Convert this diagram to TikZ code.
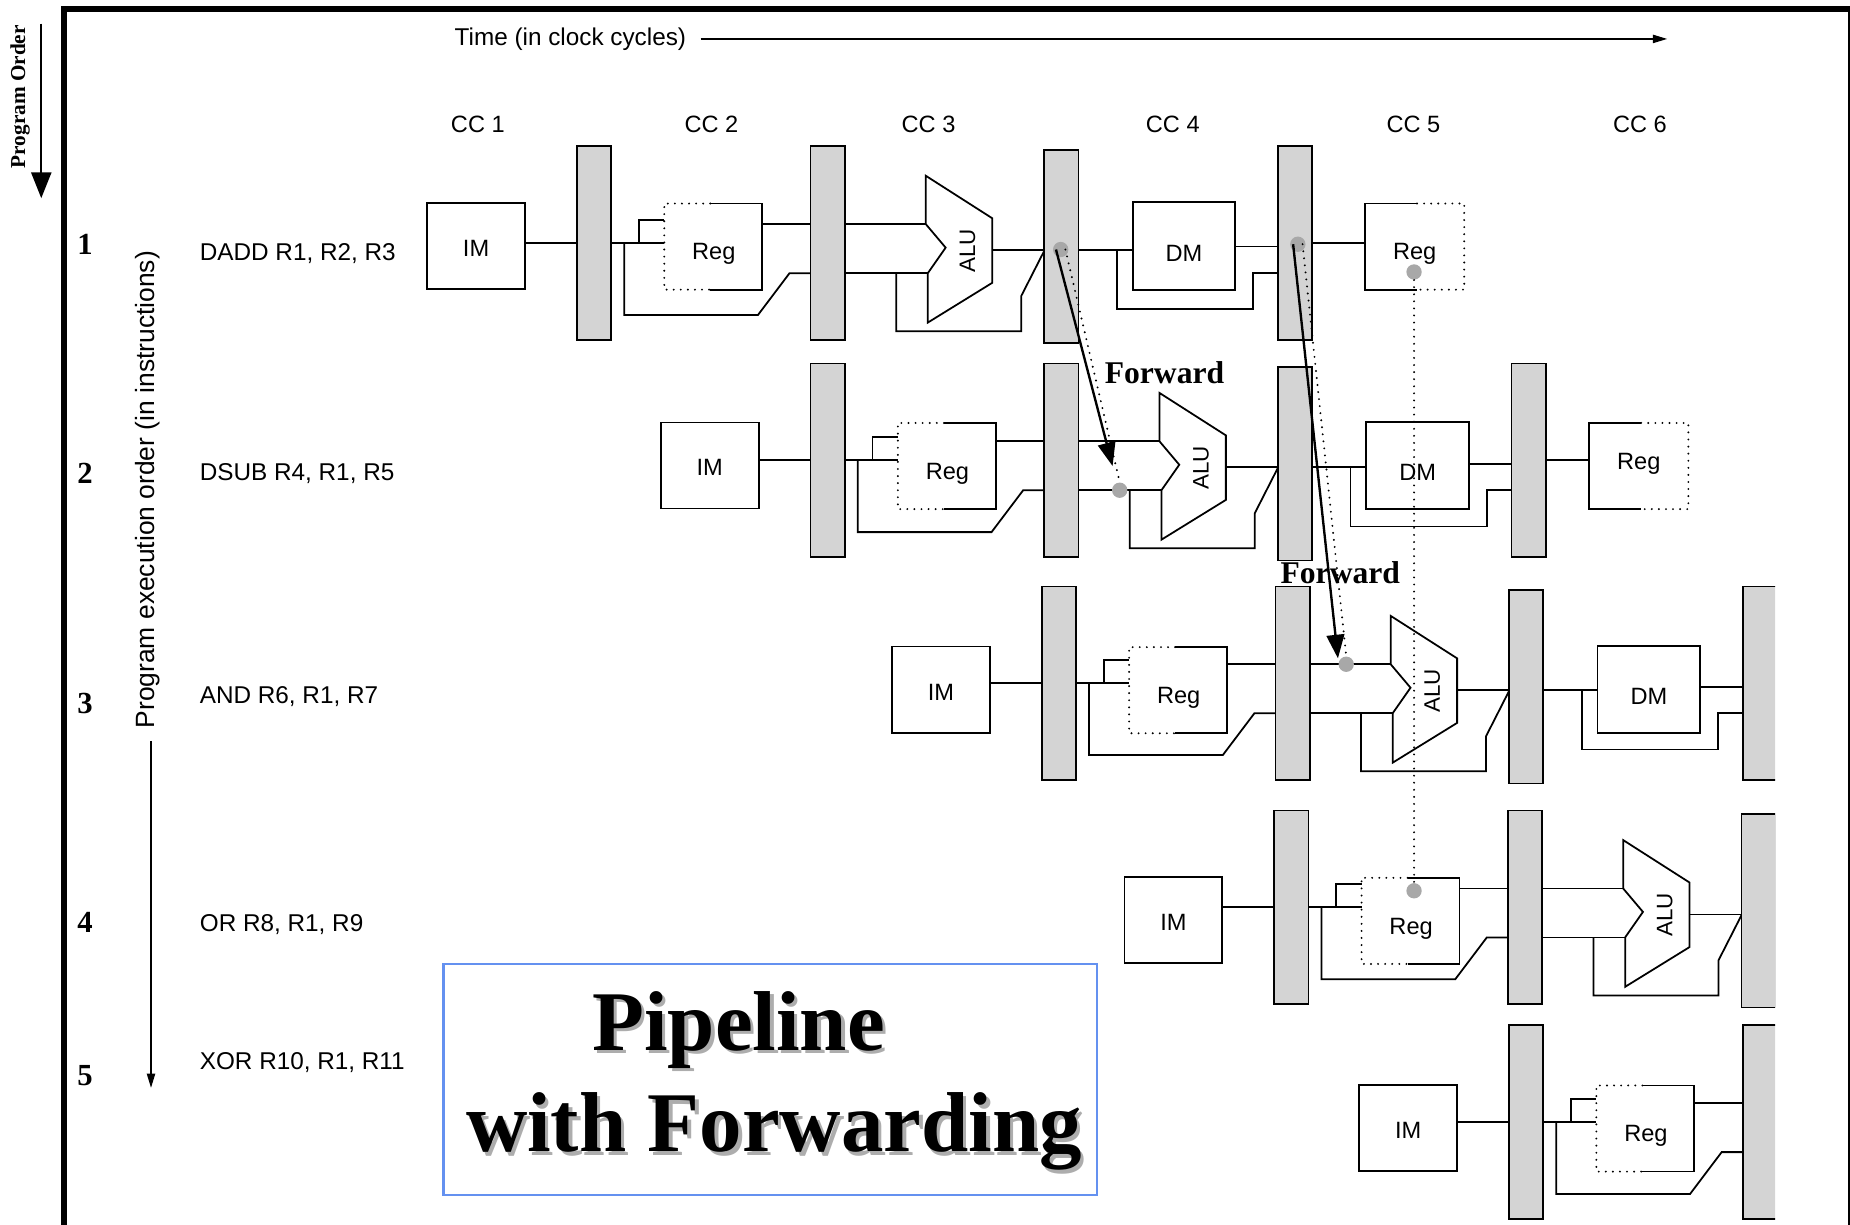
\documentclass[tikz,border=0pt]{standalone}
\usepackage{fontspec}
\setmainfont{Liberation Serif}
\setsansfont{Liberation Sans}
\usetikzlibrary{arrows.meta}
\definecolor{bargray}{gray}{0.83}
\definecolor{dotgray}{gray}{0.66}
\definecolor{shadowgray}{gray}{0.68}
\definecolor{boxblue}{RGB}{100,145,240}
\tikzset{
  wire/.style={line width=0.75pt},
  blk/.style={draw, line width=0.75pt},
  stagebar/.style={draw, line width=0.75pt, fill=bargray},
  dotw/.style={line width=0.9pt, line cap=round, dash pattern=on 0pt off 3pt},
  lbl/.style={font=\sffamily\fontsize{10}{12}\selectfont, inner sep=0pt},
  instr/.style={font=\sffamily\fontsize{10.3}{12}\selectfont, inner sep=0pt, anchor=west},
  rownum/.style={font=\bfseries\fontsize{13}{14}\selectfont, inner sep=0pt},
  fwdlbl/.style={font=\bfseries\fontsize{13.4}{15}\selectfont, inner sep=0pt},
  gdot/.style={circle, fill=dotgray, inner sep=0pt, minimum size=6.5pt},
  fwdarrow/.style={line width=1pt, -{Triangle[length=10pt,width=7.5pt]}},
  titlefont/.style={font=\bfseries\fontsize{36}{40}\selectfont, inner sep=0pt, anchor=base},
}
% #1 row id, #2 x0, #3 yb (bar centre), #4 box offset (yc-yb),
% #5 left x of WB Reg, #6 number of stages shown, #7 WB Reg label offset
\newcommand{\pipestage}[7]{%
\begin{scope}[shift={(#2,#3)}]
  % stage 1: instruction memory
  \draw[wire] (83,0) -- (127,0);
  \draw[blk] (0,{#4-36.5}) rectangle (83,{#4+36.5});
  \node[lbl] (im#1) at (41.5,{#4+2}) {IM};
  \draw[stagebar] (127,-82) rectangle (156,82);
  \ifnum#6>1\relax
  % stage 2: register read
  \draw[wire] (156,0) -- (201,0);
  \draw[wire] (179.5,0) |- (201,-19.5);
  \draw[wire] (167,0) -- (167,61) -- (280.4,61) -- (307.2,25.5) -- (325,25.5);
  \draw[wire] (284,-16) -- (325,-16);
  \draw[dotw] (240,{#4-36}) -- (201,{#4-36}) -- (201,{#4+37}) -- (240,{#4+37});
  \draw[wire] (240,{#4-36}) -- (284,{#4-36}) -- (284,{#4+37}) -- (240,{#4+37});
  \node[lbl] (regid#1) at (243,{#4+7}) {Reg};
  \draw[stagebar] (325,-82) rectangle (354,82);
  \fi
  \ifnum#6>2\relax
  % stage 3: ALU
  \draw[wire] (354,-16) -- (422.7,-16);
  \draw[wire] (354,25.5) -- (424.4,25.5);
  \draw[wire] (397.6,25.5) -- (397.6,74.7) -- (503.5,74.7) -- (503.5,45) -- (523,6.7);
  \draw[wire] (479,6) -- (523,6);
  \draw[wire, fill=white] (422.7,-57) -- (479,-21) -- (479,33.7) -- (424.4,67.4)
     -- (424.4,25.5) -- (439.5,3.9) -- (422.7,-16) -- cycle;
  \node[lbl, rotate=90, font=\sffamily\fontsize{9.5}{11}\selectfont] (alu#1) at (458,6.5) {ALU};
  \draw[stagebar] (523,-79) rectangle (552,85);
  \fi
  \ifnum#6>3\relax
  % stage 4: data memory
  \draw[wire] (552,6) -- (598,6);
  \draw[wire] (584.7,6) -- (584.7,56.2) -- (700,56.2) -- (700,25.6) -- (721,25.6);
  \draw[wire] (685,3) -- (721,3);
  \draw[blk] (598,{#4-37}) rectangle (685,{#4+37});
  \node[lbl] (dm#1) at (641.5,{#4+6}) {DM};
  \draw[stagebar] (721,-82) rectangle (750,82);
  \fi
  \ifnum#6>4\relax
  % stage 5: register write
  \draw[wire] (750,0) -- (#5,0);
  \draw[wire] ({#5+44},{#4-36}) -- (#5,{#4-36}) -- (#5,{#4+37}) -- ({#5+44},{#4+37});
  \draw[dotw] ({#5+44},{#4-36}) -- ({#5+84},{#4-36}) -- ({#5+84},{#4+37}) -- ({#5+44},{#4+37});
  \node[lbl] (regwb#1) at ({#5+42},{#4+#7}) {Reg};
  \fi
\end{scope}}

\begin{document}
\begin{tikzpicture}[x=0.5pt,y=-0.5pt]
\useasboundingbox (0,0) rectangle (1568,1038);
% frame
\draw[line width=2.5pt] (54,1060) -- (54,8) -- (1569,8) -- (1569,1060);

% program order
\node[rotate=90, font=\bfseries\fontsize{9}{10}\selectfont, inner sep=0pt] (porder) at (17,82) {Program Order};
\coordinate (po1) at (35,20);
\coordinate (po2) at (35,168);
\draw[line width=1pt, -{Triangle[length=11pt,width=8.5pt]}] (po1) -- (po2);

% time axis
\node[instr] (time) at (385,33) {Time (in clock cycles)};
\coordinate (tend) at (1413,33);
\draw[line width=0.55pt, -{Triangle[length=6pt,width=3.5pt]}] ([xshift=6pt]time.east) -- (tend);

% clock cycle labels
\node[lbl] (cc1) at (405,105) {CC 1};
\node[lbl] (cc2) at (603,105) {CC 2};
\node[lbl] (cc3) at (787,105) {CC 3};
\node[lbl] (cc4) at (994,105) {CC 4};
\node[lbl] (cc5) at (1198,105) {CC 5};
\node[lbl] (cc6) at (1390,105) {CC 6};

% row numbers
\node[rownum] (n1) at (72,207) {1};
\node[rownum] (n2) at (72,401) {2};
\node[rownum] (n3) at (72,596) {3};
\node[rownum] (n4) at (72,782) {4};
\node[rownum] (n5) at (72,912) {5};

% execution order
\node[rotate=90, font=\sffamily\fontsize{11.2}{13}\selectfont, inner sep=0pt] (peo) at (125,415) {Program execution order (in instructions)};
\coordinate (pe2) at (128,922);
\draw[line width=0.55pt, -{Triangle[length=6pt,width=3.5pt]}] (128,628) -- (pe2);

% instructions
\node[instr] (i1) at (169,215) {DADD R1, R2, R3};
\node[instr] (i2) at (169,401) {DSUB R4, R1, R5};
\node[instr] (i3) at (169,590) {AND R6, R1, R7};
\node[instr] (i4) at (169,784) {OR R8, R1, R9};
\node[instr] (i5) at (169,901) {XOR R10, R1, R11};

% pipelines
\begin{scope}
\clip (0,0) rectangle (1504.6,1038);
\pipestage{1}{362}{206}{2.5}{795}{5}{6.5}
\pipestage{2}{560}{390}{4.5}{787}{5}{-1.5}
\pipestage{3}{756}{579}{5.5}{795}{4}{6}
\pipestage{4}{953}{769}{11}{795}{3}{6}
\pipestage{5}{1152}{951}{5}{795}{2}{6}
\end{scope}

% forwarding dots
\node[gdot] (fa) at (899,211.5) {};
\node[gdot] (fb) at (1100,207) {};
\node[gdot] (fc) at (1198.5,230.5) {};
\node[gdot] (fd) at (949,415.5) {};
\node[gdot] (fe) at (1141,563) {};
\node[gdot] (ff) at (1198.5,755) {};

\draw[dotw] (fc) -- (ff);
\draw[dotw] ([xshift=2pt]fa.center) -- (fd.north);
\draw[dotw] ([xshift=2pt]fb.center) -- (fe.north);

\coordinate (tip1) at (943,395);
\coordinate (tip2) at (1134,558);
\draw[fwdarrow] ([xshift=-2pt]fa.center) -- (tip1);
\draw[fwdarrow] ([xshift=-2pt]fb.center) -- (tip2);

\node[fwdlbl] (fw1) at (987,316) {Forward};
\node[fwdlbl] (fw2) at (1136,485) {Forward};

% title box
\draw[boxblue, line width=1pt] (376,817) rectangle (930,1013);
\node[titlefont, text=shadowgray] at (629,893) {Pipeline};
\node[titlefont] (t1) at (626,890) {Pipeline};
\node[titlefont, text=shadowgray] at (659,979) {with Forwarding};
\node[titlefont] (t2) at (656,976) {with Forwarding};
\end{tikzpicture}
\end{document}
